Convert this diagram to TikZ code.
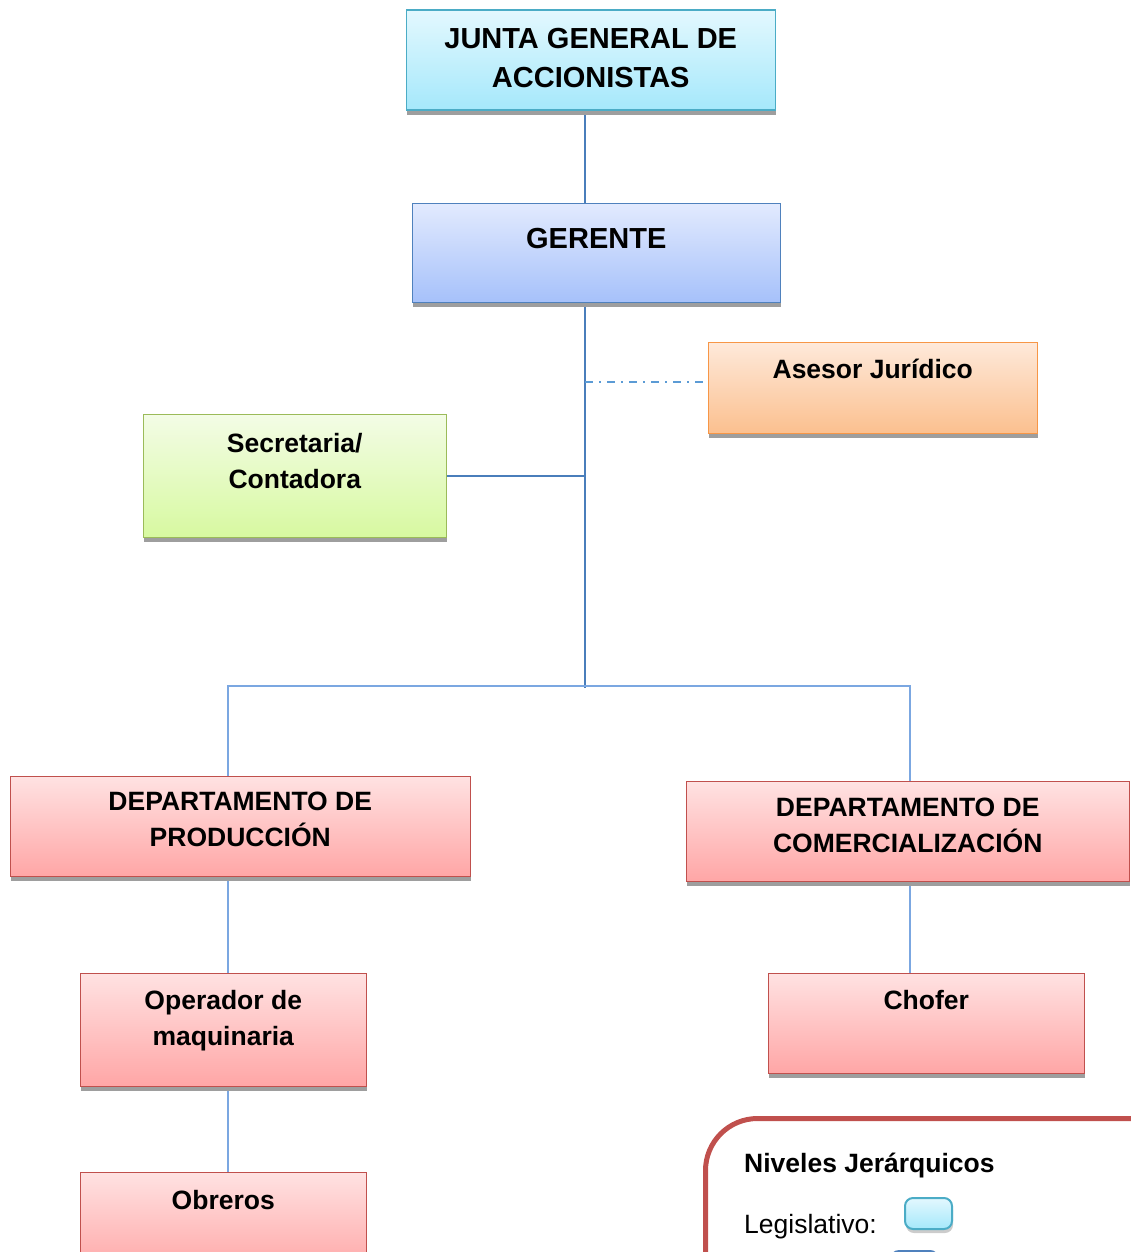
\documentclass[tikz,border=0pt]{standalone}
\usepackage{fontspec}
\setmainfont{Liberation Sans}
\usepackage{xcolor}
\usepackage{tikz}
\usetikzlibrary{shadows, backgrounds}

\definecolor{juntaBorde}{HTML}{4BACC6}
\definecolor{juntaArriba}{HTML}{E3F8FE}
\definecolor{juntaAbajo}{HTML}{A5E8FB}
\definecolor{gerBorde}{HTML}{4F81BD}
\definecolor{gerArriba}{HTML}{E2EAFE}
\definecolor{gerAbajo}{HTML}{A6C1FA}
\definecolor{aseBorde}{HTML}{F79646}
\definecolor{aseArriba}{HTML}{FEE9DA}
\definecolor{aseAbajo}{HTML}{FBC08F}
\definecolor{secBorde}{HTML}{9BBB59}
\definecolor{secArriba}{HTML}{F3FCE6}
\definecolor{secAbajo}{HTML}{D7F9A0}
\definecolor{depBorde}{HTML}{C0504D}
\definecolor{depArriba}{HTML}{FFE2E2}
\definecolor{depAbajo}{HTML}{FFA6A6}
\definecolor{lineaOsc}{HTML}{4A7EBB}
\definecolor{lineaCla}{HTML}{7BA7E1}
\definecolor{lineaAse}{HTML}{5B9BD5}

\tikzset{
  cargo/.style={rectangle, draw, line width=1.5pt, anchor=north west,
    drop shadow={shadow xshift=1pt, shadow yshift=-5pt, fill=black!38, opacity=1}},
  junta/.style={cargo, draw=juntaBorde, top color=juntaArriba, bottom color=juntaAbajo},
  gerencia/.style={cargo, draw=gerBorde, top color=gerArriba, bottom color=gerAbajo},
  asesoria/.style={cargo, draw=aseBorde, top color=aseArriba, bottom color=aseAbajo},
  apoyo/.style={cargo, draw=secBorde, top color=secArriba, bottom color=secAbajo},
  depto/.style={cargo, draw=depBorde, top color=depArriba, bottom color=depAbajo},
  rotulo/.style={font=\fontsize{26.5}{36}\selectfont\bfseries, align=center, inner sep=0pt, anchor=north},
  rotuloG/.style={rotulo, font=\fontsize{29}{39}\selectfont\bfseries},
  linea/.style={draw=lineaOsc, line width=1.8pt},
  ramal/.style={draw=lineaCla, line width=1.8pt},
  consejo/.style={draw=lineaAse, line width=1.6pt, dash pattern=on 8pt off 6pt on 2pt off 6pt},
  muestra/.style={rectangle, draw, rounded corners=8pt, line width=2pt, anchor=north west,
    minimum width=47pt, minimum height=31pt,
    drop shadow={shadow xshift=1pt, shadow yshift=-4pt, fill=black!40, opacity=.5}}
}

\begin{document}
\begin{tikzpicture}[x=1pt, y=-1pt]
\useasboundingbox (0,0) rectangle (1131,1252);
\clip (0,0) rectangle (1131,1252);

% cargos
\node[junta, minimum width=369pt, minimum height=100pt,
  label={[rotuloG, yshift=-18.5pt]north:{JUNTA GENERAL DE\\ACCIONISTAS}}] (junta) at (405.5,9.5) {};
\node[gerencia, minimum width=368pt, minimum height=99pt,
  label={[rotuloG, yshift=-25.5pt]north:{GERENTE}}] (gerente) at (411.5,202.5) {};
\node[asesoria, minimum width=329pt, minimum height=91pt,
  label={[rotulo, yshift=-17.5pt]north:{Asesor Jurídico}}] (asesor) at (707.5,341.5) {};
\node[apoyo, minimum width=303pt, minimum height=123pt,
  label={[rotulo, yshift=-19.5pt]north:{Secretaria/\\Contadora}}] (secretaria) at (142.5,413.5) {};
\node[depto, minimum width=460pt, minimum height=100pt,
  label={[rotulo, yshift=-16.5pt]north:{DEPARTAMENTO DE\\PRODUCCIÓN}}] (produccion) at (9.5,775.5) {};
\node[depto, minimum width=443pt, minimum height=100pt,
  label={[rotulo, yshift=-17.5pt]north:{DEPARTAMENTO DE\\COMERCIALIZACIÓN}}] (comercial) at (685.5,780.5) {};
\node[depto, minimum width=286pt, minimum height=113pt,
  label={[rotulo, yshift=-17.5pt]north:{Operador de\\maquinaria}}] (operador) at (79.5,972.5) {};
\node[depto, minimum width=316pt, minimum height=100pt,
  label={[rotulo, yshift=-17.5pt]north:{Chofer}}] (chofer) at (767.5,972.5) {};
\node[depto, minimum width=286pt, minimum height=100pt,
  label={[rotulo, yshift=-18.5pt]north:{Obreros}}] (obreros) at (79.5,1171.5) {};

\coordinate (tronco) at (585,688);
\coordinate (busI) at (228,686);
\coordinate (busD) at (910,686);

% conexiones
\begin{scope}[on background layer]
\draw[linea] (junta.south -| tronco) -- (gerente.north -| tronco);
\draw[linea] (gerente.south -| tronco) -- (tronco);
\draw[linea] (secretaria.east) -- (secretaria.east -| tronco);
\draw[consejo] ([yshift=6pt]asesor.west -| tronco) -- ([yshift=6pt]asesor.west);
\draw[ramal] (produccion.north -| busI) -- (busI) -- (busD) -- (comercial.north -| busD);
\draw[ramal] (produccion.south -| busI) -- (operador.north -| busI);
\draw[ramal] (operador.south -| busI) -- (obreros.north -| busI);
\draw[ramal] (comercial.south -| busD) -- (chofer.north -| busD);
\end{scope}

% leyenda
\draw[depBorde, line width=5pt, rounded corners=52pt] (705.5,1118.5) rectangle (1200,1330);
\node[anchor=base west, inner sep=0pt, font=\fontsize{26.5}{36}\selectfont\bfseries] (niveles) at (744,1172) {Niveles Jerárquicos};
\node[anchor=base west, inner sep=0pt, font=\fontsize{26.5}{36}\selectfont] (legislativo) at (744,1233) {Legislativo:};
\node[muestra, draw=juntaBorde, top color=juntaArriba, bottom color=juntaAbajo] (muestraLeg) at (904,1197) {};
\node[muestra, draw=gerBorde, top color=gerArriba, bottom color=gerAbajo] (muestraEje) at (890,1250) {};
\end{tikzpicture}
\end{document}
